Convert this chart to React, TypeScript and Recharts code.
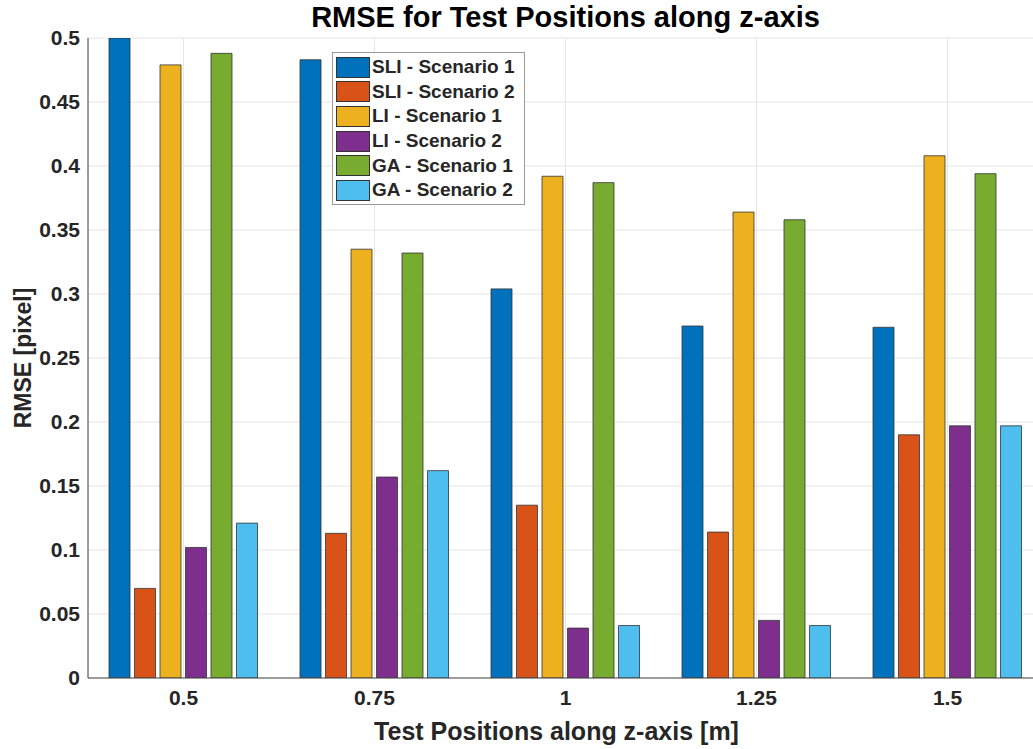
import React from 'react';
import {
  BarChart,
  Bar,
  XAxis,
  YAxis,
  CartesianGrid,
} from 'recharts';

const positions = ['0.5', '0.75', '1', '1.25', '1.5'];

const sliScenario1 = [0.5, 0.483, 0.304, 0.275, 0.274];
const sliScenario2 = [0.07, 0.113, 0.135, 0.114, 0.19];
const liScenario1 = [0.479, 0.335, 0.392, 0.364, 0.408];
const liScenario2 = [0.102, 0.157, 0.039, 0.045, 0.197];
const gaScenario1 = [0.488, 0.332, 0.387, 0.358, 0.394];
const gaScenario2 = [0.121, 0.162, 0.041, 0.041, 0.197];

const yTicks = [0, 0.05, 0.1, 0.15, 0.2, 0.25, 0.3, 0.35, 0.4, 0.45, 0.5];

const SERIES = [
  { key: 'sli1', name: 'SLI - Scenario 1', color: '#0072BD', values: sliScenario1 },
  { key: 'sli2', name: 'SLI - Scenario 2', color: '#D95319', values: sliScenario2 },
  { key: 'li1', name: 'LI - Scenario 1', color: '#EDB120', values: liScenario1 },
  { key: 'li2', name: 'LI - Scenario 2', color: '#7E2F8E', values: liScenario2 },
  { key: 'ga1', name: 'GA - Scenario 1', color: '#77AC30', values: gaScenario1 },
  { key: 'ga2', name: 'GA - Scenario 2', color: '#4DBEEE', values: gaScenario2 },
];

const data = positions.map((pos, i) => {
  const row: Record<string, string | number> = { pos };
  SERIES.forEach((s) => {
    row[s.key] = s.values[i];
  });
  return row;
});

const FONT = '"Liberation Sans", Arial, sans-serif';
const TEXT = '#262626';

// legend drawn as an overlay so it doesn't eat plot space
function LegendBox() {
  return (
    <div
      style={{
        position: 'absolute',
        left: 332,
        top: 52,
        width: 193,
        height: 153,
        boxSizing: 'border-box',
        background: 'white',
        border: '1px solid #999',
        padding: '2px 0 0 3px',
        fontFamily: FONT,
        fontWeight: 'bold',
        fontSize: 19,
        color: TEXT,
      }}
    >
      {SERIES.map((s) => (
        <div key={s.key} style={{ display: 'flex', alignItems: 'center', height: 24.6 }}>
          <span
            style={{
              display: 'inline-block',
              width: 34,
              height: 21,
              background: s.color,
              border: '1px solid #333',
              boxSizing: 'border-box',
              marginRight: 2,
            }}
          />
          <span style={{ whiteSpace: 'nowrap' }}>{s.name}</span>
        </div>
      ))}
    </div>
  );
}

export default function App() {
  return (
    <div
      style={{
        position: 'absolute',
        left: 0,
        top: 0,
        width: 1033,
        height: 749,
        overflow: 'hidden',
        background: 'white',
      }}
    >
      <div
        style={{
          position: 'absolute',
          left: 88,
          width: 955,
          top: 1,
          textAlign: 'center',
          fontFamily: FONT,
          fontWeight: 'bold',
          fontSize: 29,
          color: '#000',
        }}
      >
        RMSE for Test Positions along z-axis
      </div>
      <BarChart
        width={1044}
        height={749}
        data={data}
        margin={{ top: 38, right: 1, left: 0, bottom: 0 }}
        barCategoryGap="11%"
        barGap={4.5}
      >
        <CartesianGrid stroke="#e6e6e6" vertical={true} horizontal={true} />
        <XAxis
          dataKey="pos"
          height={71}
          axisLine={{ stroke: '#444' }}
          tickLine={false}
          tickMargin={6}
          tick={{ fill: TEXT, fontFamily: FONT, fontWeight: 'bold', fontSize: 21 }}
          label={{
            value: 'Test Positions along z-axis [m]',
            position: 'insideBottom',
            offset: 9,
            dx: -9,
            fill: TEXT,
            fontFamily: FONT,
            fontWeight: 'bold',
            fontSize: 25,
          }}
        />
        <XAxis
          xAxisId="top"
          orientation="top"
          dataKey="pos"
          height={0}
          tick={false}
          tickLine={false}
          axisLine={{ stroke: '#444' }}
        />
        <YAxis
          width={88}
          domain={[0, 0.5]}
          ticks={yTicks}
          allowDataOverflow
          axisLine={{ stroke: '#444' }}
          tickLine={false}
          tickMargin={2}
          tick={{ fill: TEXT, fontFamily: FONT, fontWeight: 'bold', fontSize: 21 }}
          label={{
            value: 'RMSE [pixel]',
            angle: -90,
            position: 'insideLeft',
            offset: 23,
            style: { textAnchor: 'middle' },
            fill: TEXT,
            fontFamily: FONT,
            fontWeight: 'bold',
            fontSize: 23,
          }}
        />
        <YAxis
          yAxisId="right"
          orientation="right"
          width={0}
          domain={[0, 0.5]}
          tick={false}
          tickLine={false}
          axisLine={{ stroke: '#444' }}
        />
        {SERIES.map((s) => (
          <Bar
            key={s.key}
            dataKey={s.key}
            name={s.name}
            fill={s.color}
            stroke="#333"
            strokeWidth={0.8}
            isAnimationActive={false}
          />
        ))}
      </BarChart>
      <LegendBox />
    </div>
  );
}
